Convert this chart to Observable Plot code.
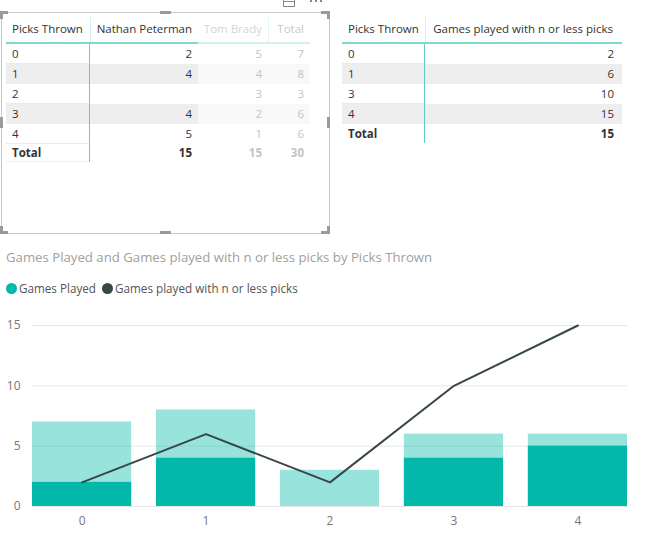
<!DOCTYPE html>
<html><head><meta charset="utf-8">
<script src="https://cdn.jsdelivr.net/npm/d3@7"></script>
<script src="https://cdn.jsdelivr.net/npm/@observablehq/plot@0.6"></script>
<style>
html,body{margin:0;padding:0;background:#fff;}
body{width:648px;height:534px;position:relative;overflow:hidden;font-family:"Segoe UI","Open Sans",sans-serif;}
.abs{position:absolute;}
.cell{position:absolute;box-sizing:border-box;font-size:11.5px;line-height:20px;white-space:nowrap;color:#333;}
</style></head>
<body>
<div id="root"></div>
<script>
// ---- data ----
const picks = ["0","1","2","3","4"];
const gamesPlayed = [7,8,3,6,6];            // total (Nathan Peterman + Tom Brady)
const petermanGames = [2,4,null,4,5];       // highlighted portion
const bradyGames = [5,4,3,2,1];
const cumulative = [2,6,2,10,15];           // Games played with n or less picks
const totalsLeft = ["15","15","30"];
const rightPicks = ["0","1","3","4"];
const rightCum = [2,6,10,15];
const rightTotal = "15";
const chartTitle = "Games Played and Games played with n or less picks by Picks Thrown";
const legendLabels = ["Games Played","Games played with n or less picks"];
const leftHeaders = ["Picks Thrown","Nathan Peterman","Tom Brady","Total"];
const rightHeaders = ["Picks Thrown","Games played with n or less picks"];

const TEAL = "#01B8AA", DARK = "#374649";
const root = document.getElementById("root");
function div(style, text){
  const d = document.createElement("div");
  d.className = "abs";
  Object.assign(d.style, style);
  if (text !== undefined) d.textContent = text;
  root.appendChild(d);
  return d;
}
function cell(x, y, w, h, text, opts={}){
  const d = div({left:x+"px", top:y+"px", width:w+"px", height:h+"px"}, text);
  d.className = "cell";
  d.style.lineHeight = h+"px";
  d.style.textAlign = opts.align || "left";
  if (opts.align === "right") d.style.paddingRight = (opts.pad ?? 6)+"px";
  else d.style.paddingLeft = (opts.pad ?? 6)+"px";
  if (opts.color) d.style.color = opts.color;
  if (opts.bold) d.style.fontWeight = "bold";
  if (opts.bg) d.style.background = opts.bg;
  return d;
}

// ---- left table visual container ----
div({left:"1px", top:"12px", width:"327px", height:"220px", border:"1px solid #c8c8c8"});
// handles
const H = "#9a9a9a";
[[0,11,8,3],[0,11,3,8],[321,11,9,3],[327,11,3,8],[0,231,8,3],[0,226,3,8],[321,231,9,3],[327,226,3,8],
 [160,11,11,3],[160,231,11,3],[0,117,3,11],[327,117,3,11]].forEach(([x,y,w,h])=>
  div({left:x+"px",top:y+"px",width:w+"px",height:h+"px",background:H}));
// tiny header icons
div({left:"283px", top:"-4px", width:"10px", height:"9px", border:"1px solid #888"});
div({left:"283px", top:"1px", width:"11px", height:"1px", background:"#888"});
[310,315,320].forEach(x=>div({left:x+"px", top:"0px", width:"2px", height:"2px", background:"#888"}));

// left table
const lCols = [{x:6,w:84},{x:90,w:108},{x:198,w:70},{x:268,w:42}];
const fade = "#c4c4c4";
const rowTop = [44,64,84,104,124];
// header
cell(lCols[0].x, 16, lCols[0].w, 25, leftHeaders[0]);
cell(lCols[1].x, 16, lCols[1].w, 25, leftHeaders[1], {align:"right"});
cell(lCols[2].x, 16, lCols[2].w, 25, leftHeaders[2], {align:"right", color:"#d4d4d4"});
cell(lCols[3].x, 16, lCols[3].w, 25, leftHeaders[3], {align:"right", color:"#c8c8c8"});
div({left:"90px", top:"17px", width:"1px", height:"25px", background:"#d4f1ee"});
div({left:"268px", top:"17px", width:"1px", height:"25px", background:"#e3f6f4"});
div({left:"6px", top:"42px", width:"192px", height:"2px", background:"#7dd8d0"});
div({left:"198px", top:"42px", width:"112px", height:"2px", background:"#d3f2ef"});
picks.forEach((p,i)=>{
  const y = rowTop[i], odd = i%2===1;
  if (odd){
    div({left:"6px", top:y+"px", width:"192px", height:"20px", background:"#eeeeee"});
    div({left:"198px", top:y+"px", width:"112px", height:"20px", background:"#f8f8f8"});
  }
  cell(lCols[0].x, y, lCols[0].w, 20, p);
  cell(lCols[1].x, y, lCols[1].w, 20, petermanGames[i]==null?"":String(petermanGames[i]), {align:"right"});
  cell(lCols[2].x, y, lCols[2].w, 20, String(bradyGames[i]), {align:"right", color:fade});
  cell(lCols[3].x, y, lCols[3].w, 20, String(gamesPlayed[i]), {align:"right", color:fade});
  div({left:"6px", top:(y+19)+"px", width:"83px", height:"1px", background:"#d9f3f0"});
});
cell(lCols[0].x, 144, lCols[0].w, 18, "Total", {bold:true});
cell(lCols[1].x, 144, lCols[1].w, 18, totalsLeft[0], {align:"right", bold:true});
cell(lCols[2].x, 144, lCols[2].w, 18, totalsLeft[1], {align:"right", bold:true, color:fade});
cell(lCols[3].x, 144, lCols[3].w, 18, totalsLeft[2], {align:"right", bold:true, color:fade});
div({left:"6px", top:"161px", width:"83px", height:"1px", background:"#e3f6f4"});
div({left:"89px", top:"44px", width:"1px", height:"118px", background:"#5fcfc4"});

// right table
const rCols = [{x:342,w:83},{x:425,w:197}];
cell(rCols[0].x, 16, rCols[0].w, 25, rightHeaders[0]);
cell(rCols[1].x, 16, rCols[1].w, 25, rightHeaders[1], {align:"right", pad:9});
div({left:"425px", top:"17px", width:"1px", height:"25px", background:"#d4f1ee"});
div({left:"342px", top:"42px", width:"280px", height:"2px", background:"#7dd8d0"});
rightPicks.forEach((p,i)=>{
  const y = rowTop[i];
  if (i%2===1) div({left:"342px", top:y+"px", width:"280px", height:"20px", background:"#eeeeee"});
  cell(rCols[0].x, y, rCols[0].w, 20, p);
  cell(rCols[1].x, y, rCols[1].w, 20, String(rightCum[i]), {align:"right", pad:8});
  div({left:"342px", top:(y+19)+"px", width:"82px", height:"1px", background:"#d9f3f0"});
});
cell(rCols[0].x, 124, rCols[0].w, 20, "Total", {bold:true});
cell(rCols[1].x, 124, rCols[1].w, 20, rightTotal, {align:"right", bold:true, pad:8});
div({left:"424px", top:"44px", width:"1px", height:"99px", background:"#5fcfc4"});

// chart title + legend
div({left:"6px", top:"247px", fontSize:"13.2px", color:"#a0a0a0", lineHeight:"20px", whiteSpace:"nowrap"}, chartTitle);
const lg = div({left:"6px", top:"279px", fontSize:"11.7px", color:"#555", lineHeight:"18px", whiteSpace:"nowrap", display:"flex", alignItems:"center"});
[[TEAL,legendLabels[0]],[DARK,legendLabels[1]]].forEach(([c,l],i)=>{
  const s = document.createElement("span");
  s.style.cssText = `display:inline-block;width:11px;height:11px;border-radius:50%;background:${c};margin-right:2px;` + (i? "margin-left:6px;":"");
  lg.appendChild(s);
  const tx = document.createElement("span"); tx.textContent = l; lg.appendChild(tx);
});

// chart
const data = picks.map((p,i)=>({pick:p, played:gamesPlayed[i], highlight:petermanGames[i], cum:cumulative[i]}));
const chart = Plot.plot({
  width:648, height:234,
  marginLeft:32, marginRight:21, marginTop:25, marginBottom:28,
  style:{fontFamily:'"Segoe UI","Open Sans",sans-serif', fontSize:"12px", color:"#777", background:"transparent"},
  x:{domain:picks, paddingInner:0.2, paddingOuter:0, round:false, label:null, tickSize:0, tickPadding:10},
  y:{domain:[0,15], ticks:[0,5,10,15], label:null, tickSize:0, tickPadding:12},
  marks:[
    Plot.gridY([0,5,10,15], {stroke:"#e6e6e6", strokeOpacity:1}),
    Plot.barY(data, {x:"pick", y:"played", fill:TEAL, fillOpacity:0.4}),
    Plot.barY(data, {x:"pick", y:"highlight", fill:TEAL}),
    Plot.lineY(data, {x:"pick", y:"cum", stroke:DARK, strokeWidth:2})
  ]
});
const wrap = div({left:"0px", top:"300px"});
wrap.appendChild(chart);
</script>
</body></html>
